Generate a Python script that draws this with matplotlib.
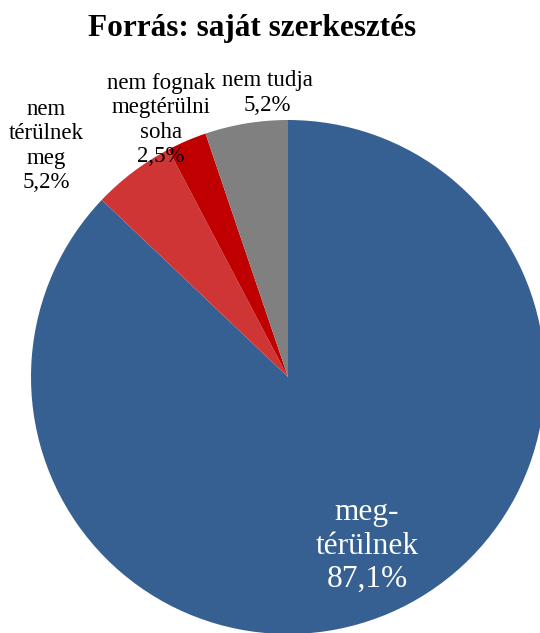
import matplotlib.pyplot as plt

# Data
labels = ['meg-\ntérülnek', 'nem\ntérülnek\nmeg', 'nem fognak\nmegtérülni\nsoha', 'nem tudja']
values = [87.1, 5.2, 2.5, 5.2]
colors = ['#376092', '#D03535', '#C00000', '#808080']

plt.rcParams['font.family'] = ['Liberation Serif', 'DejaVu Serif']

W, H = 540, 633
cx, cy, R = 288, 377, 257

fig = plt.figure(figsize=(W / 100, H / 100), dpi=100)
ax = fig.add_axes([0, 0, 1, 1])

ax.pie(values, colors=colors, startangle=90, counterclock=False, radius=1,
       wedgeprops=dict(linewidth=0))

# pie() sets its own limits, so set them afterwards
ax.set_xlim(-cx / R, (W - cx) / R)
ax.set_ylim(-(H - cy) / R, cy / R)
ax.set_aspect('equal')
ax.axis('off')


def px(x, y):
    return (x - cx) / R, (cy - y) / R


def pct(v):
    return f'{v:.1f}'.replace('.', ',') + '%'


# label positions in pixels (centre of each text block)
pos = [(367, 546), (46, 146), (161, 120), (267, 93)]
for i, (lab, v, (x, y)) in enumerate(zip(labels, values, pos)):
    tx, ty = px(x, y)
    if i == 0:
        ax.text(tx, ty, lab + '\n' + pct(v), ha='center', va='center',
                fontsize=22.6, color='white', linespacing=1.19)
    else:
        ax.text(tx, ty, lab + '\n' + pct(v), ha='center', va='center',
                fontsize=16.5, color='black', linespacing=1.2)

fig.text(252 / W, 1 - 36 / H, 'Forrás: saját szerkesztés', ha='center',
         va='baseline', fontsize=22.5, fontweight='bold')

fig.savefig('out.png', dpi=100)
